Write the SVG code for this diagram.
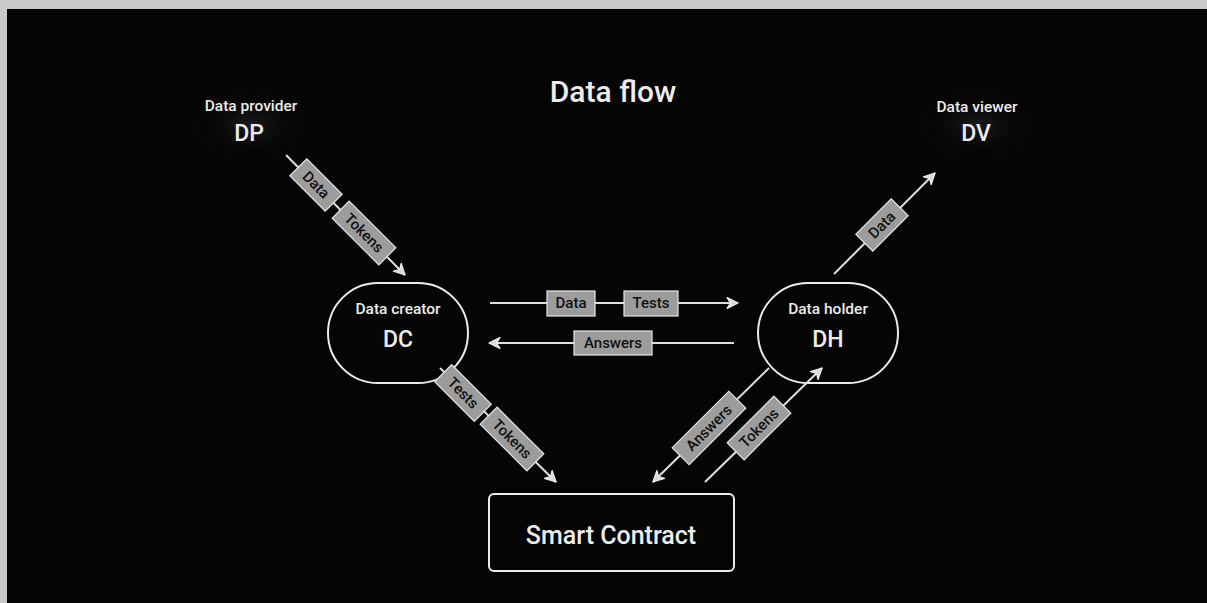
<svg xmlns="http://www.w3.org/2000/svg" width="1207" height="603" viewBox="0 0 1207 603">
<defs>
<marker id="arr" viewBox="0 0 12 12" refX="11" refY="6" markerWidth="13" markerHeight="13" markerUnits="userSpaceOnUse" orient="auto">
<path d="M1,1 L11,6 L1,11 L4,6 z" fill="#d8d8d8" stroke="#eeeeee" stroke-width="1.2" stroke-linejoin="round"/>
</marker>
<radialGradient id="glow" cx="0.5" cy="0.5" r="0.5">
<stop offset="0" stop-color="#2a2a2a" stop-opacity="0.6"/>
<stop offset="1" stop-color="#000000" stop-opacity="0"/>
</radialGradient>
</defs>
<style>
.bg{fill:#050505}
.frame{fill:#c9c9cb}
.t{font-family:Roboto,"Liberation Sans",sans-serif;fill:#ececec;text-anchor:middle}
.title{font-size:30px;font-weight:500}
.sm{font-size:15.5px;font-weight:500}
.big{font-size:23px;font-weight:500}
.node{fill:#050505;stroke:#ececec;stroke-width:2}
.ln{stroke:#dedede;stroke-width:2;fill:none}
.lb rect{fill:#9c9c9c;stroke:#e6e6e6;stroke-width:1.2}
.lb text{font-family:Roboto,"Liberation Sans",sans-serif;font-size:15px;font-weight:500;fill:#111;text-anchor:middle}
</style>
<rect class="frame" x="0" y="0" width="1207" height="603"/>
<rect class="bg" x="7" y="9" width="1200" height="594"/>
<text class="t title" x="613" y="102">Data flow</text>

<g id="DP">
<ellipse cx="250" cy="125" rx="62" ry="40" fill="url(#glow)"/>
<text class="t sm" x="251" y="111">Data provider</text>
<text class="t big" x="249" y="141">DP</text>
</g>
<g id="DV">
<ellipse cx="977" cy="125" rx="62" ry="40" fill="url(#glow)"/>
<text class="t sm" x="977" y="112">Data viewer</text>
<text class="t big" x="976" y="141">DV</text>
</g>
<g id="DC">
<rect class="node" x="328" y="283" width="140" height="100" rx="50"/>
<text class="t sm" x="398" y="314">Data creator</text>
<text class="t big" x="398" y="347">DC</text>
</g>
<g id="DH">
<rect class="node" x="758" y="283" width="140" height="100" rx="50"/>
<text class="t sm" x="828" y="314">Data holder</text>
<text class="t big" x="828" y="347">DH</text>
</g>
<g id="SC">
<rect class="node" x="489" y="494" width="245" height="77" rx="5"/>
<text class="t" style="font-size:25px;font-weight:500" x="611" y="544">Smart Contract</text>
</g>

<g id="connectors">
<line class="ln" x1="286" y1="155" x2="405" y2="275" marker-end="url(#arr)"/>
<line class="ln" x1="490" y1="303" x2="738" y2="303" marker-end="url(#arr)"/>
<line class="ln" x1="734" y1="343" x2="489" y2="343" marker-end="url(#arr)"/>
<line class="ln" x1="440" y1="368" x2="556" y2="482" marker-end="url(#arr)"/>
<line class="ln" x1="769" y1="368" x2="653" y2="482" marker-end="url(#arr)"/>
<line class="ln" x1="705" y1="482" x2="822" y2="368" marker-end="url(#arr)"/>
<line class="ln" x1="834" y1="274" x2="935" y2="173" marker-end="url(#arr)"/>

<g class="lb" transform="translate(316,185) rotate(45)"><rect x="-25" y="-12" width="50" height="24"/><text y="5">Data</text></g>
<g class="lb" transform="translate(364,233) rotate(45)"><rect x="-33" y="-12" width="66" height="24"/><text y="5">Tokens</text></g>
<g class="lb" transform="translate(571,303)"><rect x="-24" y="-12" width="48" height="25"/><text y="5">Data</text></g>
<g class="lb" transform="translate(651,303)"><rect x="-27" y="-12" width="54" height="25"/><text y="5">Tests</text></g>
<g class="lb" transform="translate(613,343)"><rect x="-39" y="-12" width="78" height="24"/><text y="5">Answers</text></g>
<g class="lb" transform="translate(463,393) rotate(45)"><rect x="-28" y="-12" width="56" height="24"/><text y="5">Tests</text></g>
<g class="lb" transform="translate(512,439) rotate(45)"><rect x="-33" y="-12" width="66" height="24"/><text y="5">Tokens</text></g>
<g class="lb" transform="translate(709,428) rotate(-45)"><rect x="-40" y="-12" width="80" height="24"/><text y="5">Answers</text></g>
<g class="lb" transform="translate(759,428) rotate(-45)"><rect x="-33" y="-12" width="66" height="24"/><text y="5">Tokens</text></g>
<g class="lb" transform="translate(882,225) rotate(-45)"><rect x="-25" y="-12" width="50" height="24"/><text y="5">Data</text></g>
</g>
</svg>
